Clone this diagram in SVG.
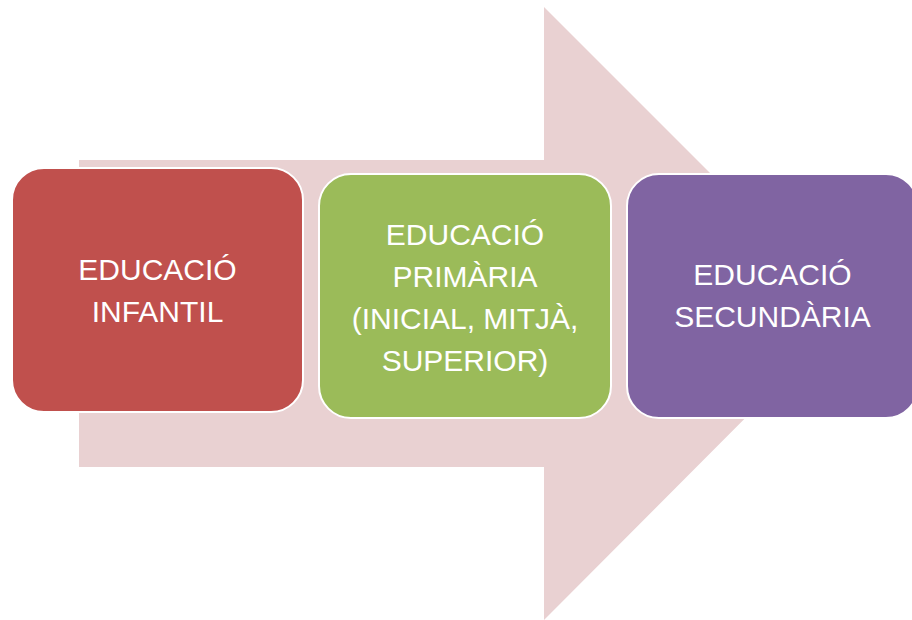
<svg xmlns="http://www.w3.org/2000/svg" width="912" height="620" viewBox="0 0 912 620">
<style>
.box{stroke:#fff;stroke-width:2}
.t{font-family:"Liberation Sans",Arial,sans-serif;font-size:30px;fill:#fff;text-anchor:middle}
</style>
<rect width="912" height="620" fill="#fff"/>
<g id="connectors">
<polygon id="arrow" points="79,160 544,160 544,7 850,313 544,620 544,467 79,467" fill="#E9D1D2"/>
</g>
<g id="node1">
<rect class="box" x="12" y="168" width="291" height="244" rx="32" fill="#C0504D"/>
<text class="t" x="157.5" y="280">EDUCACIÓ</text>
<text class="t" x="157.5" y="322">INFANTIL</text>
</g>
<g id="node2">
<rect class="box" x="319" y="174" width="292" height="244" rx="32" fill="#9BBB59"/>
<text class="t" x="465" y="245">EDUCACIÓ</text>
<text class="t" x="465" y="287">PRIMÀRIA</text>
<text class="t" x="465" y="329">(INICIAL, MITJÀ,</text>
<text class="t" x="465" y="371">SUPERIOR)</text>
</g>
<g id="node3">
<rect class="box" x="627" y="174" width="291" height="244" rx="32" fill="#8064A2"/>
<text class="t" x="772.5" y="285">EDUCACIÓ</text>
<text class="t" x="772.5" y="327">SECUNDÀRIA</text>
</g>
</svg>
